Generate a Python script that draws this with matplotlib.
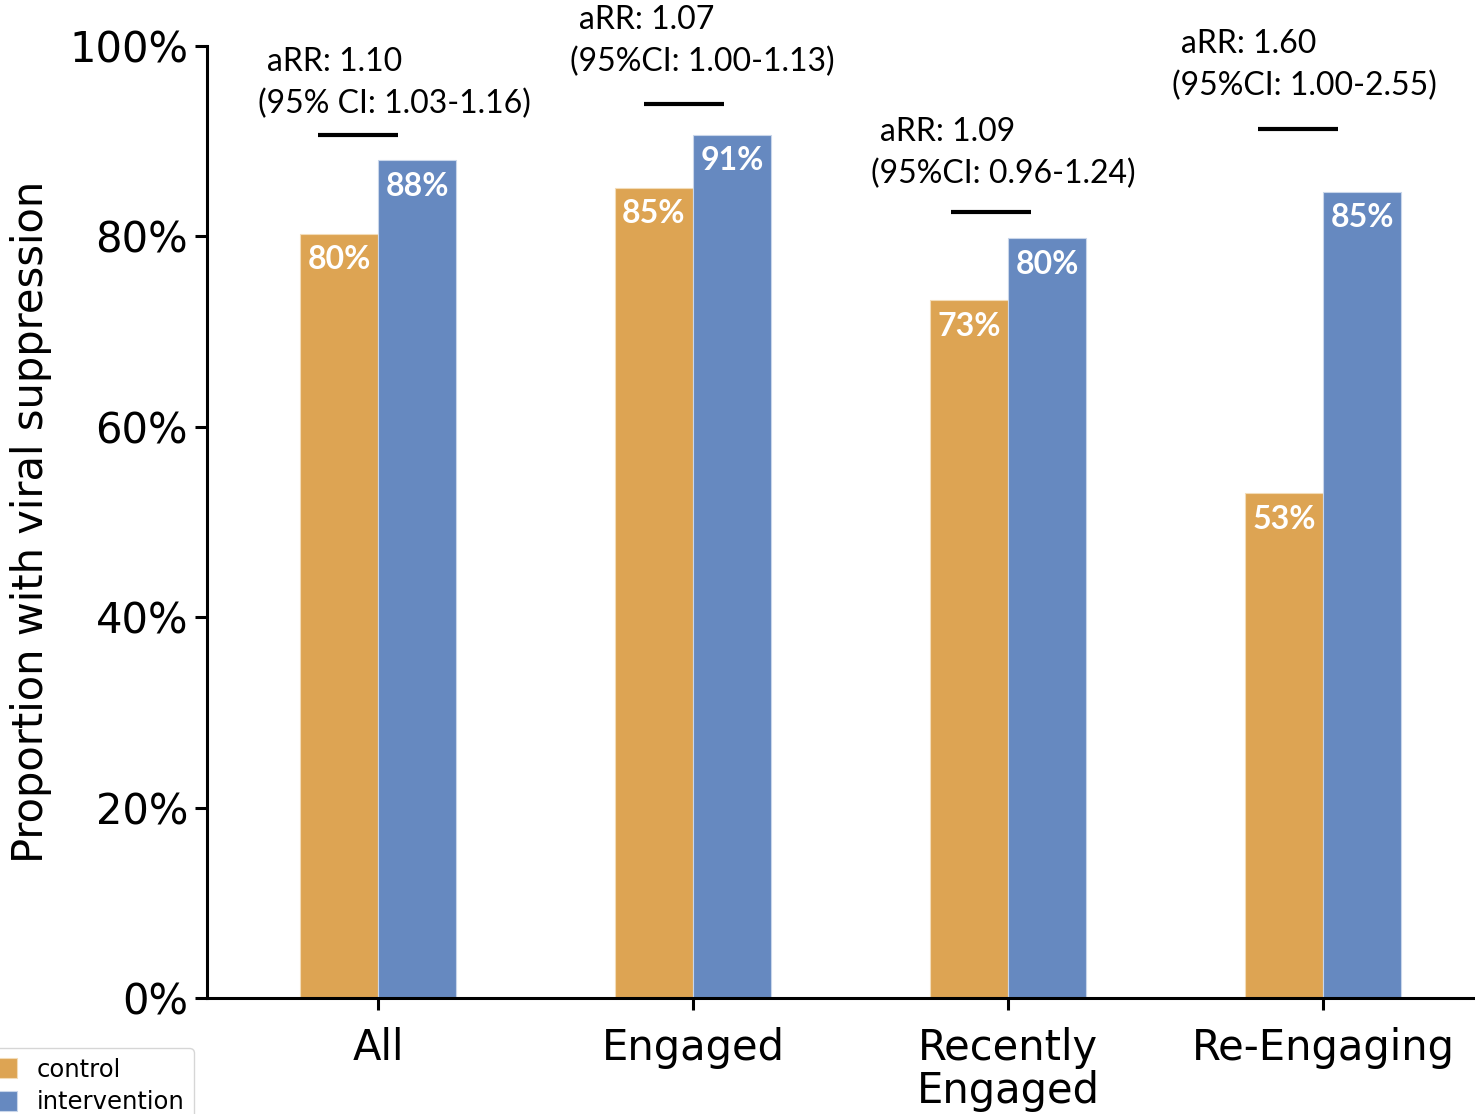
import matplotlib
matplotlib.use("Agg")
import matplotlib.pyplot as plt
from matplotlib.ticker import PercentFormatter
import numpy as np

# groups and viral suppression (%) per arm
groups = ["All", "Engaged", "Recently\nEngaged", "Re-Engaging"]
control = [80.3, 85.1, 73.3, 53.0]
intervention = [88.0, 90.7, 79.8, 84.7]

# adjusted risk ratios and their CIs
arr_text = ["aRR: 1.10", "aRR: 1.07", "aRR: 1.09", "aRR: 1.60"]
ci_text = ["(95% CI: 1.03-1.16)", "(95%CI: 1.00-1.13)",
           "(95%CI: 0.96-1.24)", "(95%CI: 1.00-2.55)"]
bracket_y = [90.7, 93.9, 82.6, 91.3]

# where each annotation sits (pixels from the group centre / bracket)
line_dx = [-20, -9, -17, -25]
text_dx = [-120, -123, -137, -151]
text_dy = [31, 42, 38, 43]

ORANGE = "#dda453"
BLUE = "#6689c0"
ANNOT_FONT = "Lato"
PX = 1 / 315  # one pixel in x data units

W, H = 1475, 1114
fig = plt.figure(figsize=(W / 100, H / 100), dpi=100)
# axes box in pixels: left 207, bottom 998, top 46, runs past the right edge
ax = fig.add_axes([207 / W, (H - 998) / H, (1494 - 207) / W, (998 - 46) / H])

x = np.arange(len(groups))
width = 0.248
b1 = ax.bar(x - width / 2, control, width, color=ORANGE, edgecolor="#f3dcb8",
            linewidth=0.8, label="control")
b2 = ax.bar(x + width / 2, intervention, width, color=BLUE, edgecolor="#c9d6ea",
            linewidth=0.8, label="intervention")

for bars, vals in ((b1, control), (b2, intervention)):
    for rect, v in zip(bars, vals):
        ax.annotate(f"{v:.0f}%", (rect.get_x() + rect.get_width() / 2, v),
                    xytext=(0, -26), textcoords="offset pixels",
                    ha="center", va="center", color="white",
                    fontsize=23, fontweight="bold", family=ANNOT_FONT)

# significance bars with aRR text above
for i in range(len(groups)):
    xc = x[i] + line_dx[i] * PX
    ax.plot([xc - 40 * PX, xc + 40 * PX], [bracket_y[i]] * 2, color="black",
            lw=3, solid_capstyle="butt", clip_on=False)
    xt = x[i] + text_dx[i] * PX
    ax.annotate(ci_text[i], (xt, bracket_y[i]), xytext=(0, text_dy[i]),
                textcoords="offset pixels", ha="left", va="center",
                fontsize=23, family=ANNOT_FONT, annotation_clip=False)
    ax.annotate(arr_text[i], (xt, bracket_y[i]), xytext=(9, text_dy[i] + 42),
                textcoords="offset pixels", ha="left", va="center",
                fontsize=23, family=ANNOT_FONT, annotation_clip=False)

ax.set_xlim(-0.543, 3.543)
ax.set_ylim(0, 100)
ax.set_yticks([0, 20, 40, 60, 80, 100])
ax.yaxis.set_major_formatter(PercentFormatter(decimals=0))
ax.set_xticks(x)
ax.set_xticklabels(groups, linespacing=1.05)
ax.tick_params(labelsize=30, width=2.2, length=8.6, pad=5)
ax.tick_params(axis="x", pad=12)
ax.set_ylabel("Proportion with viral suppression", fontsize=30, labelpad=12)

for side in ("top", "right"):
    ax.spines[side].set_visible(False)
for side in ("left", "bottom"):
    ax.spines[side].set_linewidth(2.2)

leg = fig.legend(loc="upper left", bbox_to_anchor=(-12 / W, 1 - 1048 / H),
                 fontsize=17.5, frameon=True, handlelength=0.8, handleheight=0.9,
                 handletextpad=0.8, borderaxespad=0, labelspacing=0.35)

fig.savefig("out.png", dpi=100)
